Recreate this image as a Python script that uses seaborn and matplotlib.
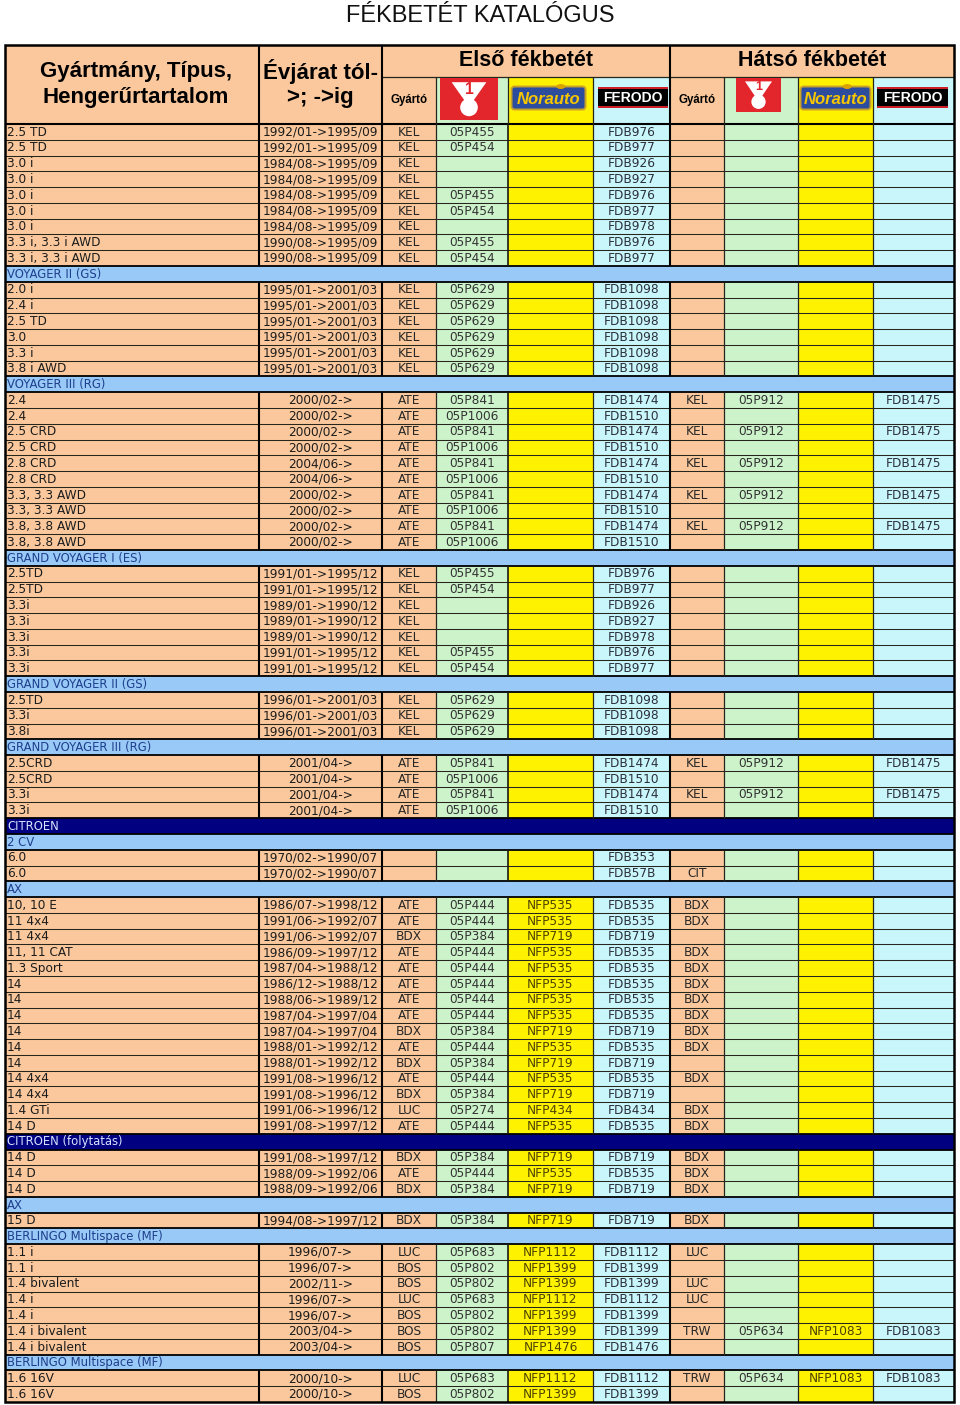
import matplotlib
matplotlib.use("Agg")
import matplotlib.pyplot as plt
from matplotlib.patches import Rectangle, Polygon, Circle, FancyBboxPatch, Ellipse
import seaborn as sns
import numpy as np

sns.set_theme(style="white")
plt.rcParams['font.family'] = ['DejaVu Sans']

# ---------------- texts ----------------
TITLE = "FÉKBETÉT KATALÓGUS"
HEAD_MODEL = ["Gyártmány, Típus,", "Hengerűrtartalom"]
HEAD_YEAR = ["Évjárat tól-", ">; ->ig"]
HEAD_FRONT = "Első fékbetét"
HEAD_REAR = "Hátsó fékbetét"
HEAD_MAKER = "Gyártó"

# ---------------- data ----------------
# row kinds: d = data row, s = model group header, b = brand header
kinds = ["d", "d", "d", "d", "d", "d", "d", "d", "d",
         "s",
         "d", "d", "d", "d", "d", "d",
         "s",
         "d", "d", "d", "d", "d", "d", "d", "d", "d", "d",
         "s",
         "d", "d", "d", "d", "d", "d", "d",
         "s",
         "d", "d", "d",
         "s",
         "d", "d", "d", "d",
         "b",
         "s",
         "d", "d",
         "s",
         "d", "d", "d", "d", "d", "d", "d", "d", "d", "d", "d", "d", "d", "d", "d",
         "b",
         "d", "d", "d",
         "s",
         "d",
         "s",
         "d", "d", "d", "d", "d", "d", "d",
         "s",
         "d", "d"]

models = ["2.5 TD", "2.5 TD", "3.0 i", "3.0 i", "3.0 i", "3.0 i", "3.0 i", "3.3 i, 3.3 i AWD", "3.3 i, 3.3 i AWD",
          "VOYAGER II (GS)",
          "2.0 i", "2.4 i", "2.5 TD", "3.0", "3.3 i", "3.8 i AWD",
          "VOYAGER III (RG)",
          "2.4", "2.4", "2.5 CRD", "2.5 CRD", "2.8 CRD", "2.8 CRD", "3.3, 3.3 AWD", "3.3, 3.3 AWD",
          "3.8, 3.8 AWD", "3.8, 3.8 AWD",
          "GRAND VOYAGER I (ES)",
          "2.5TD", "2.5TD", "3.3i", "3.3i", "3.3i", "3.3i", "3.3i",
          "GRAND VOYAGER II (GS)",
          "2.5TD", "3.3i", "3.8i",
          "GRAND VOYAGER III (RG)",
          "2.5CRD", "2.5CRD", "3.3i", "3.3i",
          "CITROEN",
          "2 CV",
          "6.0", "6.0",
          "AX",
          "10, 10 E", "11 4x4", "11 4x4", "11, 11 CAT", "1.3 Sport", "14", "14", "14", "14", "14", "14",
          "14 4x4", "14 4x4", "1.4 GTi", "14 D",
          "CITROEN (folytatás)",
          "14 D", "14 D", "14 D",
          "AX",
          "15 D",
          "BERLINGO Multispace (MF)",
          "1.1 i", "1.1 i", "1.4 bivalent", "1.4 i", "1.4 i", "1.4 i bivalent", "1.4 i bivalent",
          "BERLINGO Multispace (MF)",
          "1.6 16V", "1.6 16V"]

years = ["1992/01->1995/09", "1992/01->1995/09", "1984/08->1995/09", "1984/08->1995/09", "1984/08->1995/09",
         "1984/08->1995/09", "1984/08->1995/09", "1990/08->1995/09", "1990/08->1995/09",
         "",
         "1995/01->2001/03", "1995/01->2001/03", "1995/01->2001/03", "1995/01->2001/03", "1995/01->2001/03",
         "1995/01->2001/03",
         "",
         "2000/02->", "2000/02->", "2000/02->", "2000/02->", "2004/06->", "2004/06->", "2000/02->", "2000/02->",
         "2000/02->", "2000/02->",
         "",
         "1991/01->1995/12", "1991/01->1995/12", "1989/01->1990/12", "1989/01->1990/12", "1989/01->1990/12",
         "1991/01->1995/12", "1991/01->1995/12",
         "",
         "1996/01->2001/03", "1996/01->2001/03", "1996/01->2001/03",
         "",
         "2001/04->", "2001/04->", "2001/04->", "2001/04->",
         "",
         "",
         "1970/02->1990/07", "1970/02->1990/07",
         "",
         "1986/07->1998/12", "1991/06->1992/07", "1991/06->1992/07", "1986/09->1997/12", "1987/04->1988/12",
         "1986/12->1988/12", "1988/06->1989/12", "1987/04->1997/04", "1987/04->1997/04", "1988/01->1992/12",
         "1988/01->1992/12", "1991/08->1996/12", "1991/08->1996/12", "1991/06->1996/12", "1991/08->1997/12",
         "",
         "1991/08->1997/12", "1988/09->1992/06", "1988/09->1992/06",
         "",
         "1994/08->1997/12",
         "",
         "1996/07->", "1996/07->", "2002/11->", "1996/07->", "1996/07->", "2003/04->", "2003/04->",
         "",
         "2000/10->", "2000/10->"]

front_maker = ["KEL", "KEL", "KEL", "KEL", "KEL", "KEL", "KEL", "KEL", "KEL",
               "",
               "KEL", "KEL", "KEL", "KEL", "KEL", "KEL",
               "",
               "ATE", "ATE", "ATE", "ATE", "ATE", "ATE", "ATE", "ATE", "ATE", "ATE",
               "",
               "KEL", "KEL", "KEL", "KEL", "KEL", "KEL", "KEL",
               "",
               "KEL", "KEL", "KEL",
               "",
               "ATE", "ATE", "ATE", "ATE",
               "",
               "",
               "", "",
               "",
               "ATE", "ATE", "BDX", "ATE", "ATE", "ATE", "ATE", "ATE", "BDX", "ATE", "BDX", "ATE", "BDX", "LUC", "ATE",
               "",
               "BDX", "ATE", "BDX",
               "",
               "BDX",
               "",
               "LUC", "BOS", "BOS", "LUC", "BOS", "BOS", "BOS",
               "",
               "LUC", "BOS"]

front_05p = ["05P455", "05P454", "", "", "05P455", "05P454", "", "05P455", "05P454",
             "",
             "05P629", "05P629", "05P629", "05P629", "05P629", "05P629",
             "",
             "05P841", "05P1006", "05P841", "05P1006", "05P841", "05P1006", "05P841", "05P1006", "05P841", "05P1006",
             "",
             "05P455", "05P454", "", "", "", "05P455", "05P454",
             "",
             "05P629", "05P629", "05P629",
             "",
             "05P841", "05P1006", "05P841", "05P1006",
             "",
             "",
             "", "",
             "",
             "05P444", "05P444", "05P384", "05P444", "05P444", "05P444", "05P444", "05P444", "05P384", "05P444",
             "05P384", "05P444", "05P384", "05P274", "05P444",
             "",
             "05P384", "05P444", "05P384",
             "",
             "05P384",
             "",
             "05P683", "05P802", "05P802", "05P683", "05P802", "05P802", "05P807",
             "",
             "05P683", "05P802"]

front_nfp = ["", "", "", "", "", "", "", "", "",
             "",
             "", "", "", "", "", "",
             "",
             "", "", "", "", "", "", "", "", "", "",
             "",
             "", "", "", "", "", "", "",
             "",
             "", "", "",
             "",
             "", "", "", "",
             "",
             "",
             "", "",
             "",
             "NFP535", "NFP535", "NFP719", "NFP535", "NFP535", "NFP535", "NFP535", "NFP535", "NFP719", "NFP535",
             "NFP719", "NFP535", "NFP719", "NFP434", "NFP535",
             "",
             "NFP719", "NFP535", "NFP719",
             "",
             "NFP719",
             "",
             "NFP1112", "NFP1399", "NFP1399", "NFP1112", "NFP1399", "NFP1399", "NFP1476",
             "",
             "NFP1112", "NFP1399"]

front_fdb = ["FDB976", "FDB977", "FDB926", "FDB927", "FDB976", "FDB977", "FDB978", "FDB976", "FDB977",
             "",
             "FDB1098", "FDB1098", "FDB1098", "FDB1098", "FDB1098", "FDB1098",
             "",
             "FDB1474", "FDB1510", "FDB1474", "FDB1510", "FDB1474", "FDB1510", "FDB1474", "FDB1510", "FDB1474",
             "FDB1510",
             "",
             "FDB976", "FDB977", "FDB926", "FDB927", "FDB978", "FDB976", "FDB977",
             "",
             "FDB1098", "FDB1098", "FDB1098",
             "",
             "FDB1474", "FDB1510", "FDB1474", "FDB1510",
             "",
             "",
             "FDB353", "FDB57B",
             "",
             "FDB535", "FDB535", "FDB719", "FDB535", "FDB535", "FDB535", "FDB535", "FDB535", "FDB719", "FDB535",
             "FDB719", "FDB535", "FDB719", "FDB434", "FDB535",
             "",
             "FDB719", "FDB535", "FDB719",
             "",
             "FDB719",
             "",
             "FDB1112", "FDB1399", "FDB1399", "FDB1112", "FDB1399", "FDB1399", "FDB1476",
             "",
             "FDB1112", "FDB1399"]

rear_maker = ["", "", "", "", "", "", "", "", "",
              "",
              "", "", "", "", "", "",
              "",
              "KEL", "", "KEL", "", "KEL", "", "KEL", "", "KEL", "",
              "",
              "", "", "", "", "", "", "",
              "",
              "", "", "",
              "",
              "KEL", "", "KEL", "",
              "",
              "",
              "", "CIT",
              "",
              "BDX", "BDX", "", "BDX", "BDX", "BDX", "BDX", "BDX", "BDX", "BDX", "", "BDX", "", "BDX", "BDX",
              "",
              "BDX", "BDX", "BDX",
              "",
              "BDX",
              "",
              "LUC", "", "LUC", "LUC", "", "TRW", "",
              "",
              "TRW", ""]

rear_05p = ["", "", "", "", "", "", "", "", "",
            "",
            "", "", "", "", "", "",
            "",
            "05P912", "", "05P912", "", "05P912", "", "05P912", "", "05P912", "",
            "",
            "", "", "", "", "", "", "",
            "",
            "", "", "",
            "",
            "05P912", "", "05P912", "",
            "",
            "",
            "", "",
            "",
            "", "", "", "", "", "", "", "", "", "", "", "", "", "", "",
            "",
            "", "", "",
            "",
            "",
            "",
            "", "", "", "", "", "05P634", "",
            "",
            "05P634", ""]

rear_nfp = ["", "", "", "", "", "", "", "", "",
            "",
            "", "", "", "", "", "",
            "",
            "", "", "", "", "", "", "", "", "", "",
            "",
            "", "", "", "", "", "", "",
            "",
            "", "", "",
            "",
            "", "", "", "",
            "",
            "",
            "", "",
            "",
            "", "", "", "", "", "", "", "", "", "", "", "", "", "", "",
            "",
            "", "", "",
            "",
            "",
            "",
            "", "", "", "", "", "NFP1083", "",
            "",
            "NFP1083", ""]

rear_fdb = ["", "", "", "", "", "", "", "", "",
            "",
            "", "", "", "", "", "",
            "",
            "FDB1475", "", "FDB1475", "", "FDB1475", "", "FDB1475", "", "FDB1475", "",
            "",
            "", "", "", "", "", "", "",
            "",
            "", "", "",
            "",
            "FDB1475", "", "FDB1475", "",
            "",
            "",
            "", "",
            "",
            "", "", "", "", "", "", "", "", "", "", "", "", "", "", "",
            "",
            "", "", "",
            "",
            "",
            "",
            "", "", "", "", "", "FDB1083", "",
            "",
            "FDB1083", ""]

# ---------------- styling / layout ----------------
ORANGE = "#FAC89C"
GREEN = "#CDF3CB"
YELLOW = "#FFF200"
CYAN = "#C9F6FB"
LBLUE = "#99C9F7"
NAVY = "#000080"
COL_COLORS = [ORANGE, ORANGE, ORANGE, GREEN, YELLOW, CYAN, ORANGE, GREEN, YELLOW, CYAN]
EDGES = [5, 259, 382, 436, 508, 593, 670, 724, 798, 873, 954]
THICK_EDGES = {259, 382, 670}
MID_EDGES = {508}
TOP, H1, H2, BOTTOM = 45, 77, 124, 1402
CELL_FS = 8.7
HEAD_FONT = ['Liberation Sans', 'DejaVu Sans']

fig = plt.figure(figsize=(9.6, 14.05), dpi=100)
ax = fig.add_axes([0, 0, 1, 1])
ax.set_xlim(0, 960)
ax.set_ylim(1405, 0)
ax.axis('off')

n = len(models)
ROW_H = (BOTTOM - H2) / n
y_top = H2 + np.arange(n) * ROW_H
y_mid = y_top + ROW_H / 2
kinds_arr = np.array(kinds)
data_idx = np.where(kinds_arr == "d")[0]
sec_idx = np.where(kinds_arr == "s")[0]
brand_idx = np.where(kinds_arr == "b")[0]

# cell backgrounds
for c in range(10):
    ax.barh(y_mid[data_idx], EDGES[c + 1] - EDGES[c], left=EDGES[c], height=ROW_H,
            color=COL_COLORS[c], linewidth=0, zorder=1)
ax.barh(y_mid[sec_idx], EDGES[-1] - EDGES[0], left=EDGES[0], height=ROW_H, color=LBLUE, linewidth=0, zorder=1)
ax.barh(y_mid[brand_idx], EDGES[-1] - EDGES[0], left=EDGES[0], height=ROW_H, color=NAVY, linewidth=0, zorder=1)

# header backgrounds
ax.add_patch(Rectangle((EDGES[0], TOP), EDGES[2] - EDGES[0], H2 - TOP, color=ORANGE, lw=0, zorder=1))
ax.add_patch(Rectangle((EDGES[2], TOP), EDGES[-1] - EDGES[2], H1 - TOP, color=ORANGE, lw=0, zorder=1))
for c in range(2, 10):
    ax.add_patch(Rectangle((EDGES[c], H1), EDGES[c + 1] - EDGES[c], H2 - H1, color=COL_COLORS[c], lw=0, zorder=1))

THIN_C = "#26261c"
THIN_W = 0.75
THICK_W = 1.5

# horizontal lines between rows
for i in range(1, n):
    thick = kinds[i] != "d" or kinds[i - 1] != "d"
    ax.hlines(y_top[i], EDGES[0], EDGES[-1], colors="black" if thick else THIN_C,
              linewidth=1.3 if thick else THIN_W, zorder=3)
ax.hlines(H1, EDGES[2], EDGES[-1], colors=THIN_C, linewidth=0.9, zorder=3)
ax.hlines(H2, EDGES[0], EDGES[-1], colors="black", linewidth=THICK_W, zorder=3)

# vertical lines in data blocks
blocks = []
start = None
for i, k in enumerate(kinds + ["x"]):
    if k == "d" and start is None:
        start = i
    elif k != "d" and start is not None:
        blocks.append((start, i))
        start = None
for s, e in blocks:
    for x in EDGES[1:-1]:
        if x in THICK_EDGES:
            lw, colr = THICK_W, "black"
        elif x in MID_EDGES:
            lw, colr = 1.2, "#1a1a14"
        else:
            lw, colr = 0.9, THIN_C
        ax.vlines(x, y_top[s], y_top[s] + (e - s) * ROW_H, colors=colr, linewidth=lw, zorder=3)

# header vertical lines
for x in (EDGES[1], EDGES[2], EDGES[6]):
    ax.vlines(x, TOP, H2, colors="black", linewidth=THICK_W, zorder=3)
for x in (EDGES[3], EDGES[4], EDGES[5], EDGES[7], EDGES[8], EDGES[9]):
    ax.vlines(x, H1, H2, colors=THIN_C, linewidth=0.9, zorder=3)

# outer border
ax.add_patch(Rectangle((EDGES[0], TOP), EDGES[-1] - EDGES[0], BOTTOM - TOP, fill=False,
                       edgecolor="black", linewidth=1.8, zorder=4))

# ---------------- header texts ----------------
ax.text(480, 16, TITLE, ha="center", va="center", fontsize=17, family=HEAD_FONT, color="#111111", zorder=5)
c1 = (EDGES[0] + EDGES[1]) / 2 + 4
c2 = (EDGES[1] + EDGES[2]) / 2
for line, yy in zip(HEAD_MODEL, (71, 98)):
    ax.text(c1, yy, line, ha="center", va="center", fontsize=16, fontweight="bold", family=HEAD_FONT,
            color="black", zorder=5)
for line, yy in zip(HEAD_YEAR, (71, 98)):
    ax.text(c2, yy, line, ha="center", va="center", fontsize=16, fontweight="bold", family=HEAD_FONT,
            color="black", zorder=5)
ax.text((EDGES[2] + EDGES[6]) / 2, 61, HEAD_FRONT, ha="center", va="center", fontsize=15.5,
        fontweight="bold", family=HEAD_FONT, color="black", zorder=5)
ax.text((EDGES[6] + EDGES[10]) / 2, 61, HEAD_REAR, ha="center", va="center", fontsize=15.5,
        fontweight="bold", family=HEAD_FONT, color="black", zorder=5)
for c in (2, 6):
    ax.text((EDGES[c] + EDGES[c + 1]) / 2, 100, HEAD_MAKER, ha="center", va="center", fontsize=8.3,
            fontweight="bold", family=HEAD_FONT, color="black", zorder=5)


# ---------------- logos ----------------
def red_logo(x0, x1, y0, y1):
    w, h = x1 - x0, y1 - y0
    cx = (x0 + x1) / 2
    ax.add_patch(Rectangle((x0, y0), w, h, color="#E3262C", lw=0, zorder=4))
    ax.add_patch(Polygon([(cx - 0.30 * w, y0 + 0.10 * h), (cx + 0.30 * w, y0 + 0.10 * h),
                          (cx + 0.07 * w, y0 + 0.55 * h), (cx - 0.07 * w, y0 + 0.55 * h)],
                         closed=True, color="white", lw=0, zorder=5))
    ax.add_patch(Circle((cx, y0 + 0.70 * h), 0.21 * h, color="white", lw=0, zorder=5))
    ax.text(cx + 0.5, y0 + 0.27 * h, "1", ha="center", va="center", fontsize=h * 0.27, fontweight="bold",
            color="#E3262C", family=HEAD_FONT, zorder=6)


def norauto_logo(x0, x1, y0, y1):
    w, h = x1 - x0, y1 - y0
    ax.add_patch(FancyBboxPatch((x0 + 1.5, y0 + 1.5), w - 3, h - 3, boxstyle="round,pad=0,rounding_size=3",
                                facecolor="#2C4D9E", edgecolor="#C9A227", linewidth=1.4, zorder=4))
    ax.add_patch(Ellipse((x0 + 0.66 * w, y0 + 1.5), 9, 5, color="#D9A400", lw=0, zorder=5))
    ax.text((x0 + x1) / 2, (y0 + y1) / 2 + 1, "Norauto", ha="center", va="center", fontsize=12,
            fontweight="bold", fontstyle="italic", color="#F7C600", family=HEAD_FONT, zorder=6)


def ferodo_logo(x0, x1, y0, y1):
    w, h = x1 - x0, y1 - y0
    ax.add_patch(Rectangle((x0, y0), w, h, color="black", lw=0, zorder=4))
    ax.hlines([y0 + 1, y1 - 1], x0, x1, colors="#D32027", linewidth=1.4, zorder=5)
    ax.text((x0 + x1) / 2, (y0 + y1) / 2 + 0.5, "FERODO", ha="center", va="center", fontsize=10,
            fontweight="bold", color="white", family=HEAD_FONT, zorder=6)


red_logo(440, 498, 78, 120)
norauto_logo(510, 587, 85, 111)
ferodo_logo(598, 668, 87, 108)
red_logo(736, 781, 78, 112)
norauto_logo(799, 872, 85, 111)
ferodo_logo(877, 948, 87, 108)

# ---------------- cell texts ----------------
TXT = "#1c1c1c"
cols_centered = [
    (1, years, TXT),
    (2, front_maker, "#262626"),
    (3, front_05p, "#333333"),
    (4, front_nfp, "#4d4300"),
    (5, front_fdb, "#2b2f3a"),
    (6, rear_maker, "#262626"),
    (7, rear_05p, "#333333"),
    (8, rear_nfp, "#4d4300"),
    (9, rear_fdb, "#2b2f3a"),
]
for i in range(n):
    ym = y_mid[i] + 0.3
    if kinds[i] == "s":
        ax.text(EDGES[0] + 2, ym, models[i], ha="left", va="center", fontsize=CELL_FS - 0.3,
                color="#1E3F8C", zorder=6)
        continue
    if kinds[i] == "b":
        ax.text(EDGES[0] + 2, ym, models[i], ha="left", va="center", fontsize=CELL_FS - 0.3,
                color="#D5E3FF", zorder=6)
        continue
    ax.text(EDGES[0] + 2, ym, models[i], ha="left", va="center", fontsize=CELL_FS, color=TXT, zorder=6)
    for c, arr, colr in cols_centered:
        if arr[i]:
            ax.text((EDGES[c] + EDGES[c + 1]) / 2, ym, arr[i], ha="center", va="center",
                    fontsize=CELL_FS, color=colr, zorder=6)

fig.savefig("out.png", dpi=100, facecolor="white")
